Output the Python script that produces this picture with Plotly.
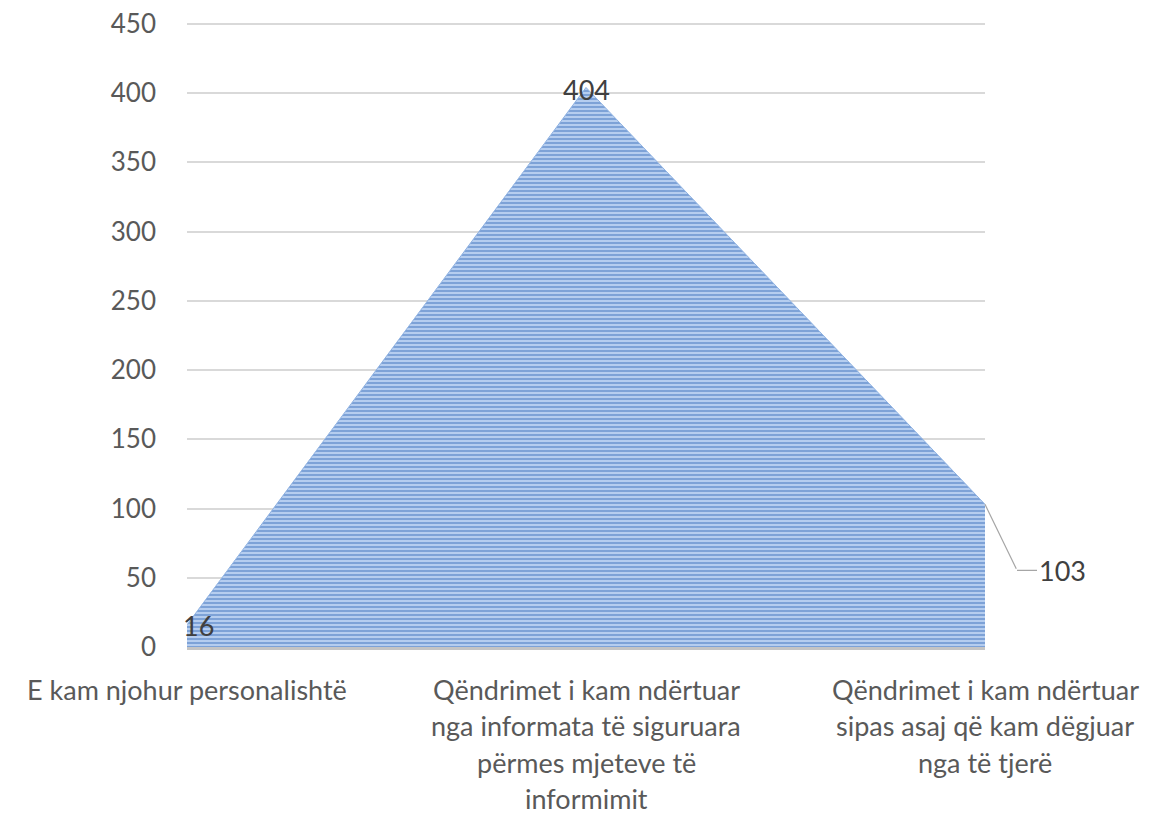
import plotly.graph_objects as go

categories = [
    "E kam njohur personalishtë",
    "Qëndrimet i kam ndërtuar<br>nga informata të siguruara<br>përmes mjeteve të<br>informimit",
    "Qëndrimet i kam ndërtuar<br>sipas asaj që kam dëgjuar<br>nga të tjerë",
]
values = [16, 404, 103]
y_ticks = [0, 50, 100, 150, 200, 250, 300, 350, 400, 450]

FONT = "Lato"
TXT = "#595959"
xs = list(range(len(categories)))

fig = go.Figure()
fig.add_trace(go.Scatter(
    x=xs, y=values, mode="lines", fill="tozeroy",
    line=dict(color="#8fb2e2", width=1),
    fillcolor="#a9c4ea",
    fillpattern=dict(shape="-", bgcolor="#b5cdef", fgcolor="#4577c0", size=4, solidity=0.5),
    hoverinfo="skip", showlegend=False,
))

annotations = []
# category labels, line by line (Excel-like line spacing)
for i, cat in enumerate(categories):
    for j, line in enumerate(cat.split("<br>")):
        annotations.append(dict(
            x=xs[i], y=0, xref="x", yref="paper", text=line, showarrow=False,
            xanchor="center", yanchor="middle",
            yshift=-(42 + 36.5 * j), font=dict(family=FONT, size=27, color=TXT),
        ))

LBL = dict(family=FONT, size=27, color="#404040")
# data labels
annotations.append(dict(x=xs[0], y=values[0], text=str(values[0]), showarrow=False,
                        xshift=11, yshift=-1, font=LBL))
annotations.append(dict(x=xs[1], y=values[1], text=str(values[1]), showarrow=False,
                        xshift=0, yshift=-2, font=LBL))
# leader line for the last label (elbow)
annotations.append(dict(x=xs[2], y=values[2], text="", showarrow=True,
                        arrowhead=0, arrowwidth=1.2, arrowcolor="#a6a6a6",
                        ax=32, ay=66, standoff=0, startstandoff=0))
annotations.append(dict(x=xs[2], y=values[2], text=str(values[2]), showarrow=True,
                        arrowhead=0, arrowwidth=1.2, arrowcolor="#a6a6a6",
                        xshift=32, yshift=-66, ax=20, ay=0, xanchor="left",
                        standoff=0, font=LBL))

fig.update_layout(
    width=1149, height=807,
    margin=dict(l=179, r=172, t=13, b=168, autoexpand=False),
    paper_bgcolor="white", plot_bgcolor="white",
    xaxis=dict(range=[0, 2], showticklabels=False, showgrid=False, zeroline=False,
               showline=True, linecolor="#c4c4c4", linewidth=3, fixedrange=True,
               automargin=False),
    yaxis=dict(range=[0, 452], tickvals=y_ticks, ticktext=[str(v) for v in y_ticks],
               showgrid=True, gridcolor="#d9d9d9", gridwidth=1.5, zeroline=False,
               showline=False, ticks="", ticklabelstandoff=30, ticklabeloverflow="allow",
               automargin=False,
               tickfont=dict(family=FONT, size=26, color=TXT)),
    annotations=annotations,
)

fig.write_html("out.html")
